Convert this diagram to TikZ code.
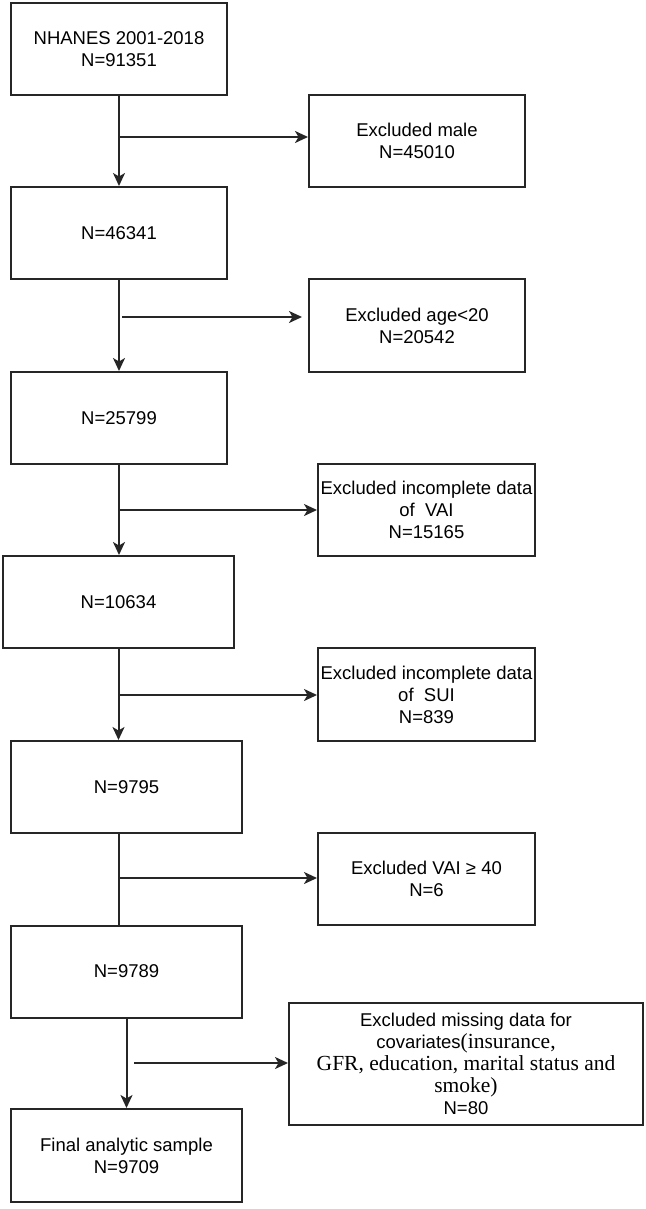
\documentclass[tikz,border=0pt]{standalone}
\usepackage{fontspec}
\setmainfont{Liberation Sans}
\newfontfamily\timesf{Liberation Serif}
\usetikzlibrary{positioning}
\usetikzlibrary{arrows.meta}
\tikzset{
    mybox/.style = {rectangle, line width=2pt, draw=black!85, align=center, inner sep=0pt, minimum width=216pt, minimum height=92pt, font=\fontsize{18.5}{22}\selectfont, text=black},
    myboxw/.style = {mybox, minimum width=231pt},
    myboxr/.style = {mybox, minimum width=217pt},
    edgea/.style = {-{Stealth[length=13pt,width=12pt,inset=3.5pt]}, line width=2pt, black!85},
    edgel/.style = {-, line width=2pt, black!85}
}

\begin{document}
\begin{tikzpicture}[x=1pt, y=-1pt]
  \useasboundingbox (0,0) rectangle (645,1209);
  % main column
  \node[mybox] (n1) at (119,49) {NHANES 2001-2018\\N=91351};
  \node[mybox] (n2) at (119,233) {N=46341};
  \node[mybox] (n3) at (119,418) {N=25799};
  \node[myboxw] (n4) at (118.5,602) {N=10634};
  \node[myboxw] (n5) at (126.5,787) {N=9795};
  \node[myboxw] (n6) at (126.5,971.5) {N=9789};
  \node[myboxw, minimum height=93pt] (n7) at (126.5,1155.5) {Final analytic sample\\N=9709};
  % excluded boxes
  \node[mybox] (e1) at (417,141) {Excluded male\\N=45010};
  \node[mybox, minimum height=93pt] (e2) at (417,325.5) {Excluded age\textless20\\N=20542};
  \node[myboxr] (e3) at (426.5,510) {Excluded incomplete data\\of\ \ VAI\\N=15165};
  \node[myboxr, minimum height=93pt] (e4) at (426.5,694.5) {Excluded incomplete data\\of\ \ SUI\\N=839};
  \node[myboxr] (e5) at (426.5,879) {Excluded VAI ≥ 40\\N=6};
  \node[mybox, minimum width=354pt, minimum height=122pt] (e6) at (466,1064)
    {Excluded missing data for\\covariates{\timesf\fontsize{21.5}{22}\selectfont(insurance,}\\
     {\timesf\fontsize{21.5}{22}\selectfont GFR, education, marital status and}\\
     {\timesf\fontsize{21.5}{22}\selectfont smoke)}\\N=80};
  % branch points
  \coordinate (b1) at (119,137);
  \coordinate (b2) at (122,317);
  \coordinate (b3) at (119,510);
  \coordinate (b4) at (119,695);
  \coordinate (b5) at (119,878);
  \coordinate (b6) at (134,1063);
  % down
  \draw[edgea] (n1) -- (n2);
  \draw[edgea] (n2) -- (n3);
  \draw[edgea] (n3.south) -- (n3.south |- n4.north);
  \draw[edgea] (n4.south) -- (n4.south |- n5.north);
  \draw[edgel] (n5.south -| n4.south) -- (n4.south |- n6.north);
  \draw[edgea] (n6) -- (n7);
  % right
  \draw[edgea] (b1) -- (b1 -| e1.west);
  \draw[edgea, shorten >=6pt] (b2) -- (b2 -| e2.west);
  \draw[edgea] (b3) -- (b3 -| e3.west);
  \draw[edgea] (b4) -- (b4 -| e4.west);
  \draw[edgea] (b5) -- (b5 -| e5.west);
  \draw[edgea] (b6) -- (b6 -| e6.west);
\end{tikzpicture}
\end{document}
